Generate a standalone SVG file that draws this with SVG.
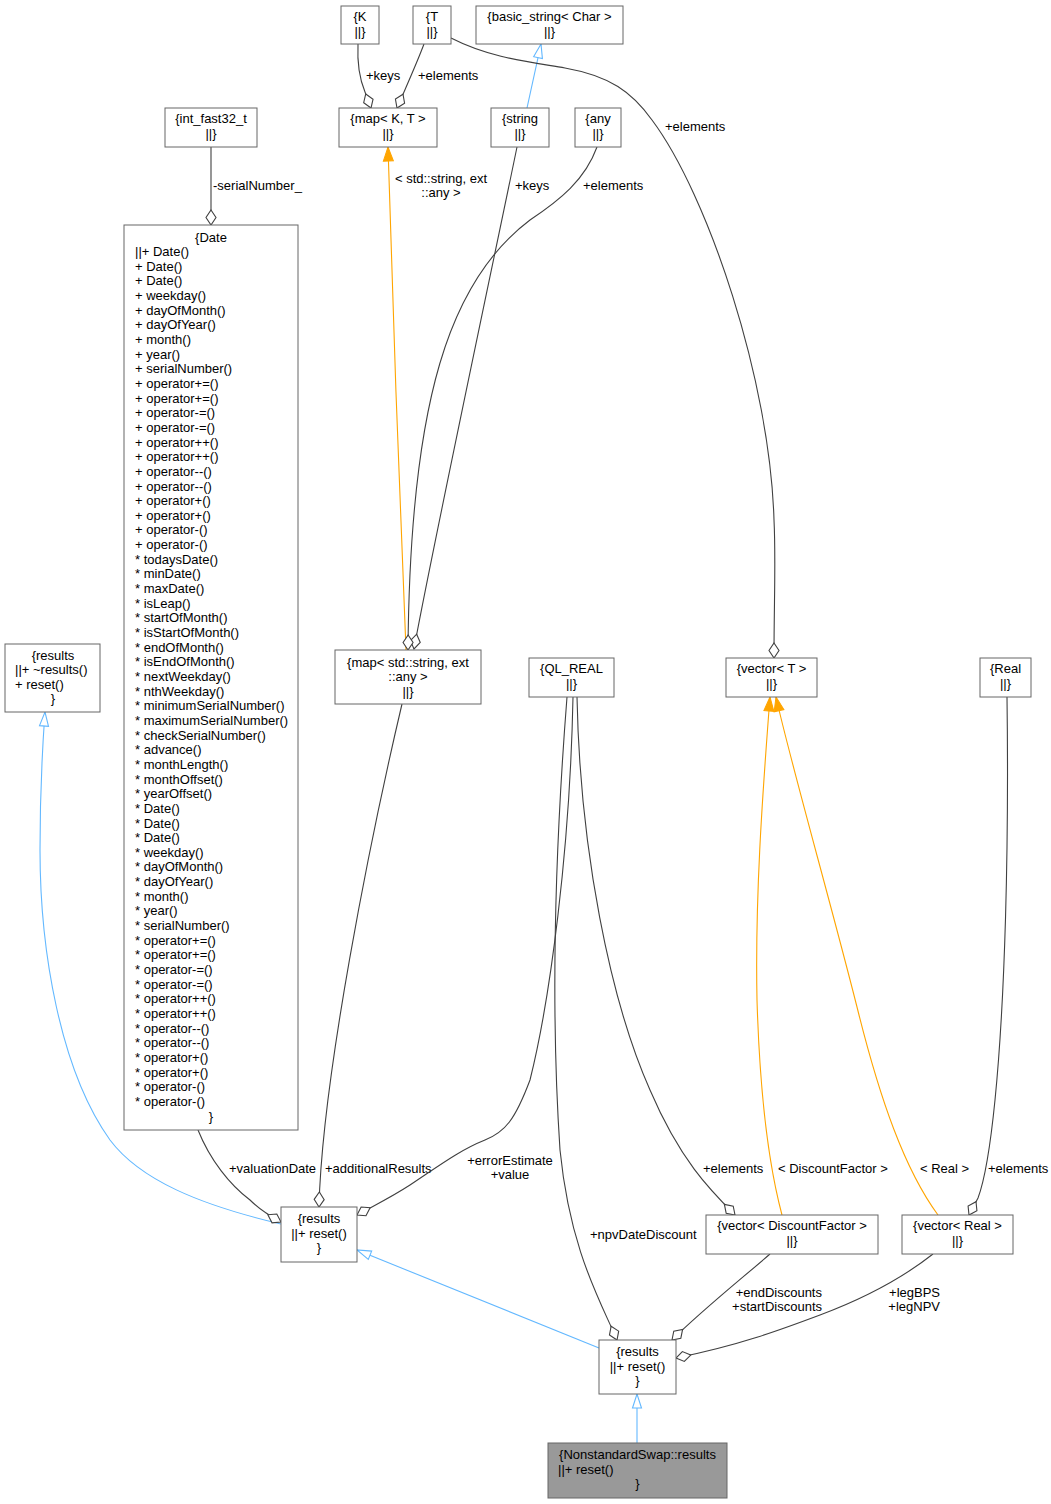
<svg xmlns="http://www.w3.org/2000/svg" width="1051" height="1504" viewBox="0 0 1051 1504">
<style>
text{font-family:"Liberation Sans",Arial,sans-serif;font-size:13px;fill:#000}
.c{text-anchor:middle}
.e{text-anchor:end}
.box{fill:#fff;stroke:#666;stroke-width:1}
.agg{fill:none;stroke:#404040;stroke-width:1.1;marker-end:url(#dia)}
.inh{fill:none;stroke:#63B8FF;stroke-width:1.1;marker-end:url(#tri)}
.tpl{fill:none;stroke:#FFA500;stroke-width:1.1;marker-end:url(#otri)}
</style>
<defs>
<marker id="dia" markerUnits="userSpaceOnUse" markerWidth="16" markerHeight="11" refX="15" refY="5" orient="auto" overflow="visible"><path d="M0,5 L7.5,0 L15,5 L7.5,10 Z" fill="#fff" stroke="#404040" stroke-width="1.1"/></marker>
<marker id="tri" markerUnits="userSpaceOnUse" markerWidth="15" markerHeight="11" refX="14" refY="5" orient="auto" overflow="visible"><path d="M0,0.5 L14,5 L0,9.5 Z" fill="#fff" stroke="#63B8FF" stroke-width="1.1"/></marker>
<marker id="otri" markerUnits="userSpaceOnUse" markerWidth="15" markerHeight="11" refX="14" refY="5" orient="auto" overflow="visible"><path d="M0,0 L14,5 L0,10 Z" fill="#FFA500" stroke="#FFA500" stroke-width="1"/></marker>
</defs>
<rect width="1051" height="1504" fill="#fff"/>

<g id="connectors">
<path class="agg" d="M358,44 C357,65 360,80 365,92 L371,108"/>
<text x="366" y="79.5">+keys</text>
<path class="agg" d="M424,44 C418,60 410,78 404,92 L397,108"/>
<text x="418" y="79.5">+elements</text>
<path class="inh" d="M527,108 L541,44"/>
<path class="agg" d="M451,38 C490,58 530,62 565,68 C610,76 632,92 652,120 C708,195 770,380 774,520 C776,560 774,600 774,658"/>
<text x="665" y="130.5">+elements</text>
<path class="agg" d="M211,147 L211,225"/>
<text x="213" y="189.5">-serialNumber_</text>
<path class="tpl" d="M406,650 C400,500 392,300 388,147"/>
<text class="c" x="441" y="182.5">&lt; std::string, ext</text>
<text class="c" x="441" y="197">::any &gt;</text>
<path class="agg" d="M517,147 C500,230 430,560 414,649"/>
<text x="515" y="189.5">+keys</text>
<path class="agg" d="M597,147 C585,180 560,200 530,220 C450,280 410,400 408,650"/>
<text x="583" y="189.5">+elements</text>
<path class="inh" d="M281,1224 C200,1205 140,1180 110,1140 C60,1070 40,950 40,850 C40,780 43,740 45,712"/>
<path class="agg" d="M198,1130 C210,1160 230,1185 250,1200 C260,1210 270,1216 281,1222"/>
<text x="229" y="1172.5">+valuationDate</text>
<path class="agg" d="M402,704 C370,840 322,1080 319,1207"/>
<text x="325" y="1172.5">+additionalResults</text>
<path class="agg" d="M573,697 C570,850 550,1000 530,1080 C515,1120 505,1132 485,1140 C460,1150 440,1165 410,1185 C390,1198 375,1205 357,1215"/>
<text class="c" x="510" y="1164.5">+errorEstimate</text>
<text class="c" x="510" y="1179">+value</text>
<path class="agg" d="M567,697 C555,850 550,1000 560,1150 C570,1250 600,1300 617,1340"/>
<text x="590" y="1238.5">+npvDateDiscount</text>
<path class="agg" d="M577,697 C580,850 610,1000 650,1090 C680,1160 710,1190 735,1215"/>
<text x="703" y="1172.5">+elements</text>
<path class="tpl" d="M782,1215 C770,1170 760,1100 757,1000 C755,900 762,800 770,697"/>
<text x="778" y="1172.5">&lt; DiscountFactor &gt;</text>
<path class="tpl" d="M938,1215 C905,1170 880,1100 857,1007 C830,900 790,760 776,697"/>
<text x="920" y="1172.5">&lt; Real &gt;</text>
<path class="agg" d="M1007,697 C1009,850 1005,1000 995,1100 C990,1150 984,1182 978,1198 L969,1215"/>
<text x="988" y="1172.5">+elements</text>
<path class="inh" d="M599,1348 L357,1250"/>
<path class="agg" d="M770,1254 C740,1280 700,1312 672,1340"/>
<text class="e" x="822" y="1296.5">+endDiscounts</text>
<text class="e" x="822" y="1311">+startDiscounts</text>
<path class="agg" d="M933,1254 C900,1280 860,1300 820,1315 C780,1330 740,1345 676,1358"/>
<text class="e" x="940" y="1296.5">+legBPS</text>
<text class="e" x="940" y="1311">+legNPV</text>
<path class="inh" d="M637,1443 L637,1394"/>
</g>

<g id="K"><rect class="box" x="341" y="6" width="38" height="38"/><text class="c" x="360" y="21">{K</text><text class="c" x="360" y="35.5">||}</text></g>
<g id="T"><rect class="box" x="413" y="6" width="38" height="38"/><text class="c" x="432" y="21">{T</text><text class="c" x="432" y="35.5">||}</text></g>
<g id="basic_string"><rect class="box" x="476" y="6" width="147" height="38"/><text class="c" x="549.5" y="21">{basic_string&lt; Char &gt;</text><text class="c" x="549.5" y="35.5">||}</text></g>
<g id="mapKT"><rect class="box" x="339" y="108" width="98" height="39"/><text class="c" x="388" y="123">{map&lt; K, T &gt;</text><text class="c" x="388" y="137.5">||}</text></g>
<g id="string"><rect class="box" x="491" y="108" width="58" height="39"/><text class="c" x="520" y="123">{string</text><text class="c" x="520" y="137.5">||}</text></g>
<g id="any"><rect class="box" x="575" y="108" width="46" height="39"/><text class="c" x="598" y="123">{any</text><text class="c" x="598" y="137.5">||}</text></g>
<g id="int_fast32_t"><rect class="box" x="165" y="108" width="92" height="39"/><text class="c" x="211" y="123">{int_fast32_t</text><text class="c" x="211" y="137.5">||}</text></g>

<g id="Date"><rect class="box" x="124" y="225" width="174" height="905"/>
<text class="c" x="211" y="241.5">{Date</text>
<text x="135" y="241.5"><tspan x="135" dy="14.65">||+ Date()</tspan><tspan x="135" dy="14.65">+ Date()</tspan><tspan x="135" dy="14.65">+ Date()</tspan><tspan x="135" dy="14.65">+ weekday()</tspan><tspan x="135" dy="14.65">+ dayOfMonth()</tspan><tspan x="135" dy="14.65">+ dayOfYear()</tspan><tspan x="135" dy="14.65">+ month()</tspan><tspan x="135" dy="14.65">+ year()</tspan><tspan x="135" dy="14.65">+ serialNumber()</tspan><tspan x="135" dy="14.65">+ operator+=()</tspan><tspan x="135" dy="14.65">+ operator+=()</tspan><tspan x="135" dy="14.65">+ operator-=()</tspan><tspan x="135" dy="14.65">+ operator-=()</tspan><tspan x="135" dy="14.65">+ operator++()</tspan><tspan x="135" dy="14.65">+ operator++()</tspan><tspan x="135" dy="14.65">+ operator--()</tspan><tspan x="135" dy="14.65">+ operator--()</tspan><tspan x="135" dy="14.65">+ operator+()</tspan><tspan x="135" dy="14.65">+ operator+()</tspan><tspan x="135" dy="14.65">+ operator-()</tspan><tspan x="135" dy="14.65">+ operator-()</tspan><tspan x="135" dy="14.65">* todaysDate()</tspan><tspan x="135" dy="14.65">* minDate()</tspan><tspan x="135" dy="14.65">* maxDate()</tspan><tspan x="135" dy="14.65">* isLeap()</tspan><tspan x="135" dy="14.65">* startOfMonth()</tspan><tspan x="135" dy="14.65">* isStartOfMonth()</tspan><tspan x="135" dy="14.65">* endOfMonth()</tspan><tspan x="135" dy="14.65">* isEndOfMonth()</tspan><tspan x="135" dy="14.65">* nextWeekday()</tspan><tspan x="135" dy="14.65">* nthWeekday()</tspan><tspan x="135" dy="14.65">* minimumSerialNumber()</tspan><tspan x="135" dy="14.65">* maximumSerialNumber()</tspan><tspan x="135" dy="14.65">* checkSerialNumber()</tspan><tspan x="135" dy="14.65">* advance()</tspan><tspan x="135" dy="14.65">* monthLength()</tspan><tspan x="135" dy="14.65">* monthOffset()</tspan><tspan x="135" dy="14.65">* yearOffset()</tspan><tspan x="135" dy="14.65">* Date()</tspan><tspan x="135" dy="14.65">* Date()</tspan><tspan x="135" dy="14.65">* Date()</tspan><tspan x="135" dy="14.65">* weekday()</tspan><tspan x="135" dy="14.65">* dayOfMonth()</tspan><tspan x="135" dy="14.65">* dayOfYear()</tspan><tspan x="135" dy="14.65">* month()</tspan><tspan x="135" dy="14.65">* year()</tspan><tspan x="135" dy="14.65">* serialNumber()</tspan><tspan x="135" dy="14.65">* operator+=()</tspan><tspan x="135" dy="14.65">* operator+=()</tspan><tspan x="135" dy="14.65">* operator-=()</tspan><tspan x="135" dy="14.65">* operator-=()</tspan><tspan x="135" dy="14.65">* operator++()</tspan><tspan x="135" dy="14.65">* operator++()</tspan><tspan x="135" dy="14.65">* operator--()</tspan><tspan x="135" dy="14.65">* operator--()</tspan><tspan x="135" dy="14.65">* operator+()</tspan><tspan x="135" dy="14.65">* operator+()</tspan><tspan x="135" dy="14.65">* operator-()</tspan><tspan x="135" dy="14.65">* operator-()</tspan></text>
<text class="c" x="211" y="1120.5">}</text></g>

<g id="results_base"><rect class="box" x="5" y="644" width="95" height="68"/><text class="c" x="53" y="659.5">{results</text><text x="15" y="674">||+ ~results()</text><text x="15" y="688.5">+ reset()</text><text class="c" x="53" y="703">}</text></g>
<g id="map_string_any"><rect class="box" x="335" y="650" width="146" height="54"/><text class="c" x="408" y="666.5">{map&lt; std::string, ext</text><text class="c" x="408" y="681">::any &gt;</text><text class="c" x="408" y="695.5">||}</text></g>
<g id="QL_REAL"><rect class="box" x="529" y="658" width="85" height="39"/><text class="c" x="571.5" y="673">{QL_REAL</text><text class="c" x="571.5" y="687.5">||}</text></g>
<g id="vectorT"><rect class="box" x="726" y="658" width="91" height="39"/><text class="c" x="771.5" y="673">{vector&lt; T &gt;</text><text class="c" x="771.5" y="687.5">||}</text></g>
<g id="Real"><rect class="box" x="980" y="658" width="51" height="39"/><text class="c" x="1005.5" y="673">{Real</text><text class="c" x="1005.5" y="687.5">||}</text></g>
<g id="results_mid"><rect class="box" x="281" y="1207" width="76" height="55"/><text class="c" x="319" y="1223">{results</text><text class="c" x="319" y="1237.5">||+ reset()</text><text class="c" x="319" y="1252">}</text></g>
<g id="vectorDF"><rect class="box" x="706" y="1215" width="172" height="39"/><text class="c" x="792" y="1230">{vector&lt; DiscountFactor &gt;</text><text class="c" x="792" y="1244.5">||}</text></g>
<g id="vectorReal"><rect class="box" x="902" y="1215" width="111" height="39"/><text class="c" x="957.5" y="1230">{vector&lt; Real &gt;</text><text class="c" x="957.5" y="1244.5">||}</text></g>
<g id="results_bottom"><rect class="box" x="599" y="1340" width="77" height="54"/><text class="c" x="637.5" y="1356">{results</text><text class="c" x="637.5" y="1370.5">||+ reset()</text><text class="c" x="637.5" y="1385">}</text></g>
<g id="NonstandardSwap_results"><rect x="548" y="1443" width="179" height="55" fill="#999999" stroke="#666"/><text class="c" x="637.5" y="1459">{NonstandardSwap::results</text><text x="558" y="1473.5">||+ reset()</text><text class="c" x="637.5" y="1488">}</text></g>
</svg>
